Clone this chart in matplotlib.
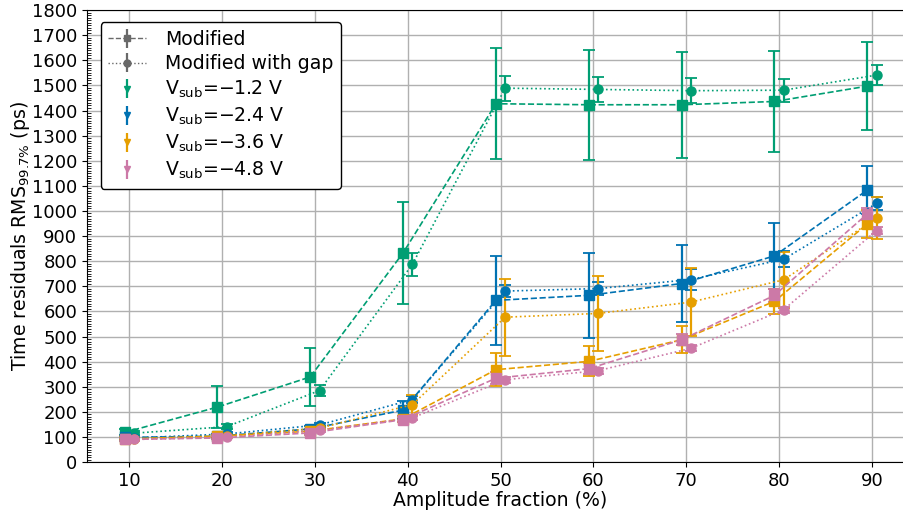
import numpy as np
import matplotlib
matplotlib.use('Agg')
from matplotlib import pyplot as plt
from matplotlib.ticker import MultipleLocator

fractions = [10, 20, 30, 40, 50, 60, 70, 80, 90]

# Vsub = -1.2 V
green_mod = [118, 219, 339, 833, 1427, 1423, 1423, 1436, 1497]
green_mod_err = [12, 85, 114, 202, 220, 219, 212, 201, 175]
green_gap = [115, 141, 285, 787, 1489, 1484, 1479, 1481, 1541]
green_gap_err = [8, 10, 20, 44, 50, 51, 50, 46, 41]

# Vsub = -2.4 V
blue_mod = [98, 103, 132, 207, 644, 664, 711, 821, 1083]
blue_mod_err = [8, 8, 10, 35, 176, 170, 153, 131, 97]
blue_gap = [96, 112, 148, 249, 681, 691, 727, 808, 1030]
blue_gap_err = [6, 6, 8, 15, 25, 25, 40, 31, 27]

# Vsub = -3.6 V
orange_mod = [92, 103, 123, 172, 368, 401, 487, 640, 948]
orange_mod_err = [6, 6, 8, 12, 65, 60, 53, 51, 54]
orange_gap = [92, 105, 135, 229, 577, 592, 637, 726, 972]
orange_gap_err = [6, 6, 8, 40, 153, 148, 135, 112, 83]

# Vsub = -4.8 V
pink_mod = [90, 96, 116, 169, 334, 372, 487, 664, 988]
pink_mod_err = [6, 6, 8, 10, 25, 22, 22, 25, 25]
pink_gap = [90, 99, 127, 176, 328, 364, 453, 607, 922]
pink_gap_err = [5, 5, 6, 8, 12, 12, 12, 12, 15]

vsub_labels = ['-1.2', '-2.4', '-3.6', '-4.8']
colors = ['#009e73', '#0072b2', '#e69f00', '#cc79a7']
series = [
    (green_mod, green_mod_err, green_gap, green_gap_err),
    (blue_mod, blue_mod_err, blue_gap, blue_gap_err),
    (orange_mod, orange_mod_err, orange_gap, orange_gap_err),
    (pink_mod, pink_mod_err, pink_gap, pink_gap_err),
]

plt.rcParams['font.size'] = 13

fig = plt.figure(figsize=(9.04, 5.14), dpi=100)
ax = fig.add_axes([0.0962, 0.101, 0.915, 0.8794])

x = np.array(fractions, dtype=float)
for (mod, mod_err, gap, gap_err), col in zip(series, colors):
    ax.errorbar(x - 0.5, mod, yerr=mod_err, fmt='s--', color=col, ms=6.5,
                lw=1.2, elinewidth=1.6, capsize=4, capthick=1.3)
    ax.errorbar(x + 0.5, gap, yerr=gap_err, fmt='o:', color=col, ms=6.5,
                lw=1.2, elinewidth=1.6, capsize=4, capthick=1.3)

# legend entries
h_mod = ax.errorbar([np.nan], [np.nan], yerr=[np.nan], fmt='s--', color='dimgray',
                    ms=5, lw=1, elinewidth=1.6, label='Modified')
h_gap = ax.errorbar([np.nan], [np.nan], yerr=[np.nan], fmt='o:', color='dimgray',
                    ms=5, lw=1, elinewidth=1.6, label='Modified with gap')
handles = [h_mod, h_gap]
for lab, col in zip(vsub_labels, colors):
    h = ax.errorbar([np.nan], [np.nan], yerr=[np.nan], fmt='v', color=col, ms=5,
                    elinewidth=1.6,
                    label=r'V$_{\mathrm{sub}}$=$-$' + lab.lstrip('-') + ' V')
    handles.append(h)

leg = ax.legend(handles=handles, loc='upper left', fontsize=13.6, framealpha=1,
                edgecolor='black', bbox_to_anchor=(0.005, 0.994),
                labelspacing=0.3, borderpad=0.4, handletextpad=1.0)
leg.get_frame().set_linewidth(1.0)

ax.set_xlim(5.45, 94.55)
ax.set_ylim(0, 1800)
ax.set_xticks(fractions)
ax.yaxis.set_major_locator(MultipleLocator(100))
ax.yaxis.set_minor_locator(MultipleLocator(10))
ax.tick_params(axis='y', which='minor', direction='in', length=3)
ax.tick_params(axis='both', which='major', labelsize=13)
ax.grid(True, color='#b0b0b0', lw=1)
ax.set_axisbelow(True)

ax.set_xlabel('Amplitude fraction (%)', fontsize=13.6, labelpad=1)
ax.set_ylabel(r'Time residuals RMS$_{99.7\%}$ (ps)', fontsize=13.6, labelpad=0)

fig.savefig('out.png', dpi=100)
